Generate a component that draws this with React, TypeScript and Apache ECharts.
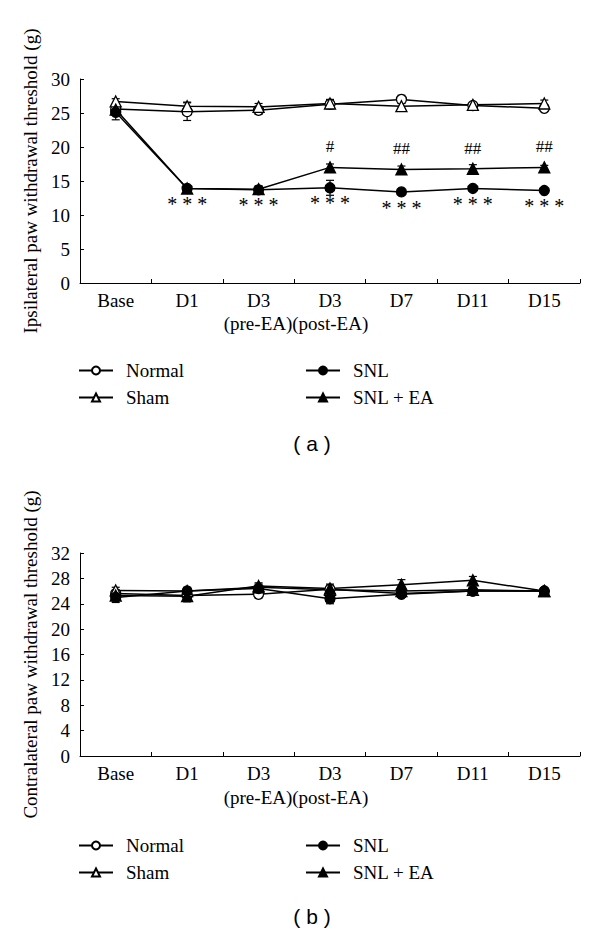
import React, { useEffect, useRef } from "react";
import * as echarts from "echarts";

const categories = ["Base", "D1", "D3", "D3", "D7", "D11", "D15"];

// Panel (a): ipsilateral
const aNormal = [25.6, 25.2, 25.4, 26.3, 27.0, 26.1, 25.7];
const aNormalErr = [0.6, 1.3, 0.6, 0.7, 0.6, 0.4, 0.5];
const aSham = [26.7, 26.0, 25.9, 26.4, 26.0, 26.2, 26.4];
const aShamErr = [0.4, 0.6, 0.5, 0.5, 0.5, 0.4, 0.5];
const aSNL = [25.1, 13.9, 13.7, 14.0, 13.4, 13.9, 13.6];
const aSNLErr = [1.1, 0.4, 0.4, 1.1, 0.3, 0.4, 0.3];
const aEA = [25.5, 13.9, 13.8, 17.0, 16.7, 16.8, 17.0];
const aEAErr = [0.7, 0.4, 0.5, 0.5, 0.5, 0.6, 0.3];
const sigSNL = ["", "* * *", "* * *", "* * *", "* * *", "* * *", "* * *"];
const sigEA = ["", "", "", "#", "##", "##", "##"];

// Panel (b): contralateral
const bNormal = [25.6, 25.3, 25.5, 26.3, 25.6, 26.0, 26.0];
const bNormalErr = [0.6, 0.6, 0.6, 0.6, 0.6, 0.5, 0.4];
const bSham = [26.1, 26.0, 26.6, 26.2, 26.0, 26.2, 26.0];
const bShamErr = [0.5, 0.5, 0.5, 0.6, 0.5, 0.4, 0.4];
const bSNL = [25.0, 26.0, 26.4, 24.8, 25.5, 26.0, 26.0];
const bSNLErr = [0.8, 0.6, 0.5, 0.8, 0.5, 0.6, 0.4];
const bEA = [25.3, 25.2, 26.8, 26.4, 27.0, 27.7, 26.0];
const bEAErr = [0.7, 0.9, 0.5, 0.7, 0.8, 0.6, 0.4];

const yTicksA = { min: 0, max: 30, interval: 5 };
const yTicksB = { min: 0, max: 32, interval: 4 };

const SERIF = "'Liberation Serif', 'Times New Roman', serif";
const SANS = "'Liberation Sans', Arial, sans-serif";

function errData(vals: number[], errs: number[]) {
  return vals.map((v, i) => [i, v - errs[i], v + errs[i]]);
}

function errSeries(vals: number[], errs: number[], axis: number) {
  return {
    type: "custom",
    xAxisIndex: axis,
    yAxisIndex: axis,
    silent: true,
    z: 2,
    encode: { x: 0, y: [1, 2] },
    data: errData(vals, errs),
    renderItem: (params: any, api: any) => {
      const x = api.value(0);
      const lo = api.coord([x, api.value(1)]);
      const hi = api.coord([x, api.value(2)]);
      const w = 4;
      const style = { stroke: "#000", lineWidth: 1.2 };
      return {
        type: "group",
        children: [
          { type: "line", shape: { x1: lo[0], y1: lo[1], x2: hi[0], y2: hi[1] }, style },
          { type: "line", shape: { x1: lo[0] - w, y1: lo[1], x2: lo[0] + w, y2: lo[1] }, style },
          { type: "line", shape: { x1: hi[0] - w, y1: hi[1], x2: hi[0] + w, y2: hi[1] }, style },
        ],
      };
    },
  };
}

function lineSeries(name: string, data: number[], axis: number, symbol: string, filled: boolean, extra: any = {}) {
  return {
    type: "line",
    name,
    data,
    xAxisIndex: axis,
    yAxisIndex: axis,
    symbol,
    symbolSize: symbol === "triangle" ? 11 : 10,
    showAllSymbol: true,
    z: 3,
    lineStyle: { color: "#000", width: 1.5 },
    itemStyle: {
      color: filled ? "#000" : "#fff",
      borderColor: "#000",
      borderWidth: 1.3,
    },
    emphasis: { disabled: true },
    ...extra,
  };
}

function xAxis(grid: number) {
  return {
    type: "category",
    gridIndex: grid,
    data: categories,
    boundaryGap: true,
    axisLine: { show: true, lineStyle: { color: "#000", width: 1 } },
    axisTick: { show: true, inside: true, length: 4, alignWithLabel: false, lineStyle: { color: "#000" } },
    axisLabel: { color: "#000", fontSize: 19, fontWeight: "normal", fontFamily: SERIF, margin: 8, interval: 0 },
    splitLine: { show: false },
  };
}

function yAxis(grid: number, ticks: any, name: string) {
  return {
    type: "value",
    gridIndex: grid,
    min: ticks.min,
    max: ticks.max,
    interval: ticks.interval,
    name,
    nameLocation: "middle",
    nameGap: 40,
    nameTextStyle: { color: "#000", fontSize: 19, fontWeight: "normal", fontFamily: SERIF },
    axisLine: { show: true, lineStyle: { color: "#000", width: 1 } },
    axisTick: { show: true, inside: true, length: 4, lineStyle: { color: "#000" } },
    axisLabel: { color: "#000", fontSize: 19, fontWeight: "normal", fontFamily: SERIF, margin: 10 },
    splitLine: { show: false },
  };
}

function legend(names: string[], left: number, top: number) {
  return {
    data: names,
    orient: "vertical",
    left,
    top,
    padding: 0,
    itemWidth: 34,
    itemHeight: 10,
    itemGap: 8,
    selectedMode: false,
    textStyle: { color: "#000", fontSize: 19, fontWeight: "normal", fontFamily: SERIF, padding: [0, 0, 0, 8] },
  };
}

export default function App() {
  const ref = useRef<HTMLDivElement>(null);
  useEffect(() => {
    if (!ref.current) return;
    const chart = echarts.init(ref.current, undefined, { renderer: "svg" });
    const option: any = {
      animation: false,
      backgroundColor: "#fff",
      grid: [
        { left: 80, right: 20, top: 79, height: 204 },
        { left: 80, right: 20, top: 553, height: 203 },
      ],
      xAxis: [xAxis(0), xAxis(1)],
      yAxis: [
        yAxis(0, yTicksA, "Ipsilateral paw withdrawal threshold (g)"),
        yAxis(1, yTicksB, "Contralateral paw withdrawal threshold (g)"),
      ],
      legend: [
        legend(["Normal", "Sham"], 78, 361),
        legend(["SNL", "SNL + EA"], 305, 361),
        legend(["Normal", "Sham"], 78, 836),
        legend(["SNL", "SNL + EA"], 305, 836),
      ],
      series: [
        errSeries(aNormal, aNormalErr, 0),
        errSeries(aSham, aShamErr, 0),
        errSeries(aSNL, aSNLErr, 0),
        errSeries(aEA, aEAErr, 0),
        lineSeries("Normal", aNormal, 0, "circle", false),
        lineSeries("Sham", aSham, 0, "triangle", false),
        lineSeries("SNL", aSNL, 0, "circle", true, {
          label: {
            show: true,
            position: "bottom",
            distance: 0,
            color: "#000",
            fontSize: 20,
            fontFamily: SERIF,
            formatter: (p: any) => sigSNL[p.dataIndex],
          },
        }),
        lineSeries("SNL + EA", aEA, 0, "triangle", true, {
          label: {
            show: true,
            position: "top",
            distance: 6,
            color: "#000",
            fontSize: 17,
            fontFamily: SERIF,
            formatter: (p: any) => sigEA[p.dataIndex],
          },
        }),
        errSeries(bNormal, bNormalErr, 1),
        errSeries(bSham, bShamErr, 1),
        errSeries(bSNL, bSNLErr, 1),
        errSeries(bEA, bEAErr, 1),
        lineSeries("Normal", bNormal, 1, "circle", false),
        lineSeries("Sham", bSham, 1, "triangle", false),
        lineSeries("SNL", bSNL, 1, "circle", true),
        lineSeries("SNL + EA", bEA, 1, "triangle", true),
      ],
      graphic: [
        {
          type: "text",
          x: 296,
          y: 323,
          style: { text: "(pre-EA)(post-EA)", fill: "#000", fontSize: 19, fontFamily: SERIF, align: "center", verticalAlign: "middle" },
        },
        {
          type: "text",
          x: 296,
          y: 797,
          style: { text: "(pre-EA)(post-EA)", fill: "#000", fontSize: 19, fontFamily: SERIF, align: "center", verticalAlign: "middle" },
        },
        {
          type: "text",
          x: 312,
          y: 443,
          style: { text: "( a )", fill: "#000", fontSize: 21, fontFamily: SANS, align: "center", verticalAlign: "middle" },
        },
        {
          type: "text",
          x: 312,
          y: 916,
          style: { text: "( b )", fill: "#000", fontSize: 21, fontFamily: SANS, align: "center", verticalAlign: "middle" },
        },
      ],
    };
    chart.setOption(option);
    return () => chart.dispose();
  }, []);
  return <div ref={ref} style={{ position: "absolute", left: 0, top: 0, width: 600, height: 934 }} />;
}
